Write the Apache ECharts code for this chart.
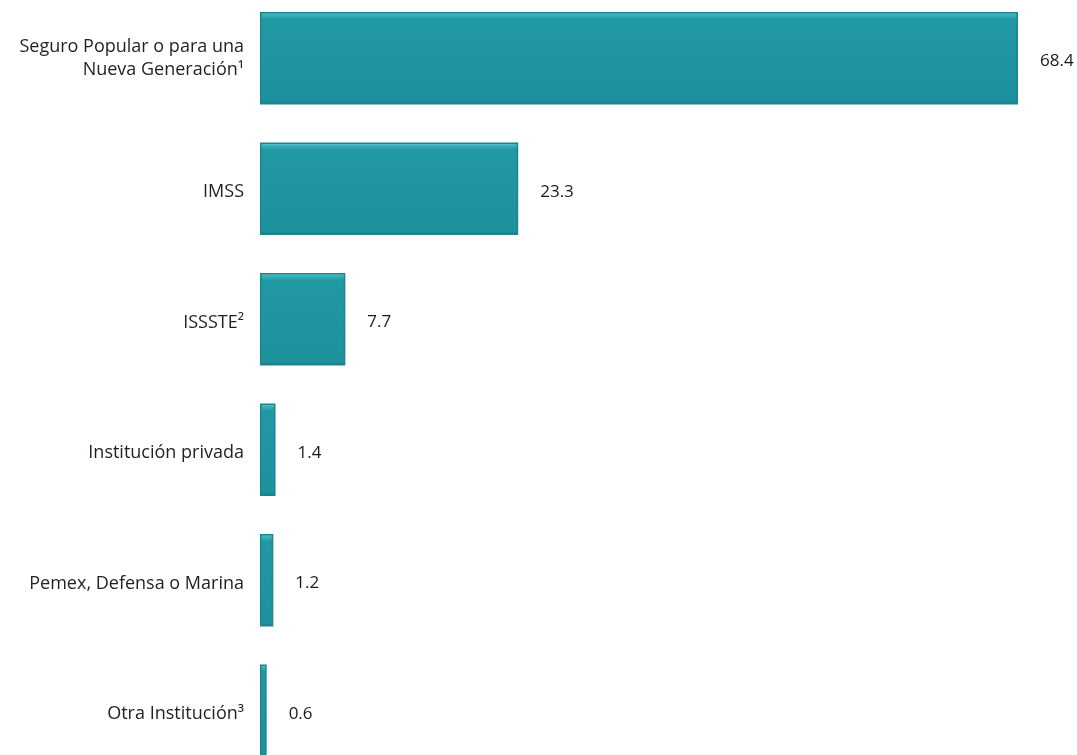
<!DOCTYPE html>
<html>
<head>
<meta charset="utf-8">
<script src="https://cdn.jsdelivr.net/npm/echarts@6/dist/echarts.min.js"></script>
<style>html,body{margin:0;padding:0;background:#fff;}#c{width:1077px;height:755px;}</style>
</head>
<body>
<div id="c"></div>
<script>
var categories = [
  "Seguro Popular o para una\nNueva Generación¹",
  "IMSS",
  "ISSSTE²",
  "Institución privada",
  "Pemex, Defensa o Marina",
  "Otra Institución³"
];
var values = [68.4, 23.3, 7.7, 1.4, 1.2, 0.6];

var chart = echarts.init(document.getElementById('c'));
chart.setOption({
  animation: false,
  backgroundColor: '#ffffff',
  grid: { left: 260, width: 758, top: -7, height: 783, containLabel: false, outerBoundsMode: 'none' },
  xAxis: {
    type: 'value', min: 0, max: 'dataMax', show: false
  },
  yAxis: {
    type: 'category', inverse: true, data: categories,
    axisLine: { show: false }, axisTick: { show: false }, splitLine: { show: false },
    axisLabel: {
      margin: 16, color: '#231f20', fontSize: 18, lineHeight: 23,
      fontFamily: 'Open Sans', align: 'right',
      formatter: function (v) {
        return v.indexOf('\n') >= 0 ? v : '{s|' + v + '}';
      },
      rich: {
        s: { fontSize: 18, fontFamily: 'Open Sans', color: '#231f20', lineHeight: 23, padding: [7, 0, 0, 0] }
      }
    }
  },
  series: [{
    type: 'bar', data: values, barCategoryGap: '29%',
    itemStyle: {
      color: {
        type: 'linear', x: 0, y: 0, x2: 0, y2: 1,
        colorStops: [
          { offset: 0, color: '#7fd3da' },
          { offset: 0.03, color: '#3fb1bb' },
          { offset: 0.08, color: '#2199a5' },
          { offset: 0.5, color: '#1f95a1' },
          { offset: 0.96, color: '#1d929e' },
          { offset: 1, color: '#157780' }
        ]
      },
      borderColor: '#1a858f', borderWidth: 1.5
    },
    label: {
      show: true, position: 'right', distance: 22, offset: [0, 3],
      color: '#1a1a1a', fontSize: 17, fontFamily: 'Open Sans',
      formatter: function (p) { return p.value.toFixed(1); }
    }
  }]
});
</script>
</body>
</html>
